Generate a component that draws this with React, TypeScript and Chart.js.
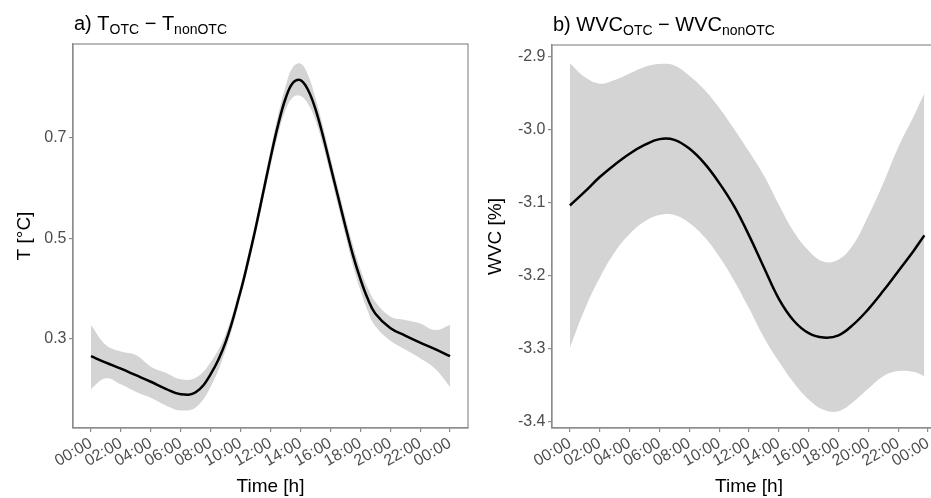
import React, { useEffect, useRef } from "react";
import { Chart, registerables } from "chart.js";

Chart.register(...registerables);

const FONT = "'Liberation Sans', Arial, Helvetica, sans-serif";

// ---- Panel a) temperature difference ----
const tHours = [0, 1, 2, 3, 4, 5, 6, 7, 8, 9, 10, 10.5, 11, 11.5, 12, 12.5, 13, 13.5, 14, 14.5, 15, 15.5, 16, 16.5, 17, 17.5, 18, 18.5, 19, 20, 21, 22, 23, 24];
const tMean = [0.266, 0.253, 0.241, 0.228, 0.215, 0.201, 0.19, 0.194, 0.23, 0.294, 0.395, 0.455, 0.52, 0.59, 0.66, 0.725, 0.778, 0.81, 0.815, 0.796, 0.758, 0.705, 0.645, 0.585, 0.525, 0.468, 0.42, 0.38, 0.351, 0.322, 0.307, 0.293, 0.28, 0.266];
const tUpper = [0.328, 0.288, 0.275, 0.268, 0.245, 0.233, 0.22, 0.223, 0.254, 0.31, 0.407, 0.468, 0.533, 0.604, 0.676, 0.744, 0.802, 0.841, 0.848, 0.826, 0.78, 0.724, 0.662, 0.602, 0.543, 0.488, 0.44, 0.402, 0.374, 0.345, 0.338, 0.331, 0.318, 0.328];
const tLower = [0.201, 0.222, 0.21, 0.195, 0.183, 0.168, 0.158, 0.164, 0.205, 0.278, 0.383, 0.442, 0.507, 0.576, 0.644, 0.706, 0.755, 0.781, 0.784, 0.768, 0.736, 0.686, 0.628, 0.567, 0.507, 0.448, 0.398, 0.356, 0.326, 0.297, 0.279, 0.262, 0.241, 0.205];
const tYTicks = [0.3, 0.5, 0.7];
const tYLabels = ["0.3", "0.5", "0.7"];

// ---- Panel b) water volumetric content difference ----
const wHours = [0, 1, 2, 3, 4, 5, 6, 7, 8, 9, 10, 11, 12, 13, 14, 15, 16, 17, 18, 19, 20, 21, 22, 23, 23.75];
const wMean = [-3.104, -3.085, -3.065, -3.048, -3.033, -3.021, -3.013, -3.014, -3.026, -3.046, -3.073, -3.105, -3.145, -3.189, -3.232, -3.262, -3.279, -3.285, -3.282, -3.267, -3.246, -3.221, -3.194, -3.167, -3.145];
const wUpper = [-2.909, -2.928, -2.937, -2.932, -2.923, -2.914, -2.91, -2.912, -2.926, -2.945, -2.97, -2.999, -3.03, -3.063, -3.103, -3.14, -3.166, -3.181, -3.178, -3.157, -3.118, -3.073, -3.024, -2.983, -2.95];
const wLower = [-3.299, -3.246, -3.203, -3.168, -3.143, -3.126, -3.117, -3.117, -3.128, -3.147, -3.174, -3.207, -3.245, -3.285, -3.318, -3.347, -3.37, -3.384, -3.386, -3.373, -3.355, -3.338, -3.331, -3.332, -3.338];
const wYTicks = [-3.4, -3.3, -3.2, -3.1, -3.0, -2.9];
const wYLabels = ["-3.4", "-3.3", "-3.2", "-3.1", "-3.0", "-2.9"];

// ---- shared x axis ----
const xTickValues = [0, 2, 4, 6, 8, 10, 12, 14, 16, 18, 20, 22, 24];
const xTickLabels = ["00:00", "02:00", "04:00", "06:00", "08:00", "10:00", "12:00", "14:00", "16:00", "18:00", "20:00", "22:00", "00:00"];

type Part = { text: string; sub?: boolean };

const titleA: Part[] = [
  { text: "a) " }, { text: "T" }, { text: "OTC", sub: true }, { text: " \u2212 " }, { text: "T" }, { text: "nonOTC", sub: true },
];
const titleB: Part[] = [
  { text: "b) " }, { text: "WVC" }, { text: "OTC", sub: true }, { text: " \u2212 " }, { text: "WVC" }, { text: "nonOTC", sub: true },
];

type PanelProps = {
  width: number;
  height: number;
  hours: number[];
  mean: number[];
  upper: number[];
  lower: number[];
  yMin: number;
  yMax: number;
  yTicks: number[];
  yLabels: string[];
  yAxisWidth: number;
  padTop: number;
  padRight: number;
  title: Part[];
  yTitle: string;
  yTitleX: number;
};

const decorPlugin = {
  id: "panelDecor",
  afterDraw(chart: any, _args: any, opts: any) {
    const { ctx, chartArea: ca } = chart;
    ctx.save();
    ctx.strokeStyle = "#8c8c8c";
    ctx.lineWidth = 1.2;
    ctx.strokeRect(ca.left, ca.top, ca.right - ca.left, ca.bottom - ca.top);

    // panel title with subscripts
    let x = ca.left + 1;
    const base = ca.top - 14;
    ctx.fillStyle = "#000";
    ctx.textAlign = "left";
    ctx.textBaseline = "alphabetic";
    for (const p of opts.title as Part[]) {
      ctx.font = p.sub ? `14px ${FONT}` : `20px ${FONT}`;
      ctx.fillText(p.text, x, p.sub ? base + 4 : base);
      x += ctx.measureText(p.text).width;
    }

    // x axis title
    ctx.font = `19px ${FONT}`;
    ctx.textAlign = "center";
    ctx.textBaseline = "middle";
    ctx.fillText(opts.xTitle, (ca.left + ca.right) / 2, 487);

    // y axis title
    ctx.translate(opts.yTitleX, (ca.top + ca.bottom) / 2);
    ctx.rotate(-Math.PI / 2);
    ctx.fillText(opts.yTitle, 0, 0);
    ctx.restore();
  },
};

function Panel(props: PanelProps) {
  const ref = useRef<HTMLCanvasElement | null>(null);
  useEffect(() => {
    if (!ref.current) return;
    const pts = (arr: number[]) => props.hours.map((h, i) => ({ x: h, y: arr[i] }));
    const chart = new Chart(ref.current, {
      type: "line",
      data: {
        datasets: [
          {
            label: "mean",
            data: pts(props.mean),
            borderColor: "#000",
            borderWidth: 2.5,
            pointRadius: 0,
            fill: false,
            tension: 0.4,
          },
          {
            label: "upper",
            data: pts(props.upper),
            borderColor: "rgba(0,0,0,0)",
            borderWidth: 0,
            backgroundColor: "#d4d4d4",
            pointRadius: 0,
            fill: "+1",
            tension: 0.4,
          },
          {
            label: "lower",
            data: pts(props.lower),
            borderColor: "rgba(0,0,0,0)",
            borderWidth: 0,
            pointRadius: 0,
            fill: false,
            tension: 0.4,
          },
        ],
      },
      options: {
        animation: false,
        responsive: false,
        devicePixelRatio: 1,
        layout: { padding: { left: 0, right: props.padRight, top: props.padTop, bottom: 0 } },
        plugins: {
          legend: { display: false },
          tooltip: { enabled: false },
          panelDecor: { title: props.title, xTitle: "Time [h]", yTitle: props.yTitle, yTitleX: props.yTitleX },
        } as any,
        scales: {
          x: {
            type: "linear",
            min: -1.2,
            max: 25.2,
            afterBuildTicks: (scale: any) => {
              scale.ticks = xTickValues.map((v) => ({ value: v }));
            },
            afterFit: (scale: any) => {
              scale.height = 70;
            },
            grid: { drawOnChartArea: false, drawTicks: true, tickLength: 4, color: "#8c8c8c", lineWidth: 1.2 },
            border: { display: true, color: "#8c8c8c", width: 1.2 },
            ticks: {
              autoSkip: false,
              minRotation: 30,
              maxRotation: 30,
              padding: 2,
              color: "#4d4d4d",
              font: { family: FONT, size: 16 },
              callback: (_v: any, i: number) => xTickLabels[i],
            },
          },
          y: {
            type: "linear",
            min: props.yMin,
            max: props.yMax,
            afterBuildTicks: (scale: any) => {
              scale.ticks = props.yTicks.map((v) => ({ value: v }));
            },
            afterFit: (scale: any) => {
              scale.width = props.yAxisWidth;
            },
            grid: { drawOnChartArea: false, drawTicks: true, tickLength: 4, color: "#8c8c8c", lineWidth: 1.2 },
            border: { display: true, color: "#8c8c8c", width: 1.2 },
            ticks: {
              padding: 2.5,
              color: "#4d4d4d",
              font: { family: FONT, size: 16 },
              callback: (_v: any, i: number) => props.yLabels[i],
            },
          },
        },
      },
      plugins: [decorPlugin],
    } as any);
    return () => chart.destroy();
  }, []);
  return (
    <canvas
      ref={ref}
      width={props.width}
      height={props.height}
      style={{ display: "block", width: props.width, height: props.height }}
    />
  );
}

export default function App() {
  return (
    <div
      style={{
        position: "absolute",
        left: 0,
        top: 0,
        width: 931,
        height: 498,
        overflow: "hidden",
        background: "#fff",
      }}
    >
      <div style={{ position: "absolute", left: 0, top: 0 }}>
        <Panel
          width={470}
          height={498}
          hours={tHours}
          mean={tMean}
          upper={tUpper}
          lower={tLower}
          yMin={0.123}
          yMax={0.887}
          yTicks={tYTicks}
          yLabels={tYLabels}
          yAxisWidth={73}
          padTop={44}
          padRight={2}
          title={titleA}
          yTitle={"T [\u00B0C]"}
          yTitleX={25}
        />
      </div>
      <div style={{ position: "absolute", left: 470, top: 0 }}>
        <Panel
          width={480}
          height={498}
          hours={wHours}
          mean={wMean}
          upper={wUpper}
          lower={wLower}
          yMin={-3.409}
          yMax={-2.884}
          yTicks={wYTicks}
          yLabels={wYLabels}
          yAxisWidth={82}
          padTop={45}
          padRight={4}
          title={titleB}
          yTitle={"WVC [%]"}
          yTitleX={26}
        />
      </div>
    </div>
  );
}
